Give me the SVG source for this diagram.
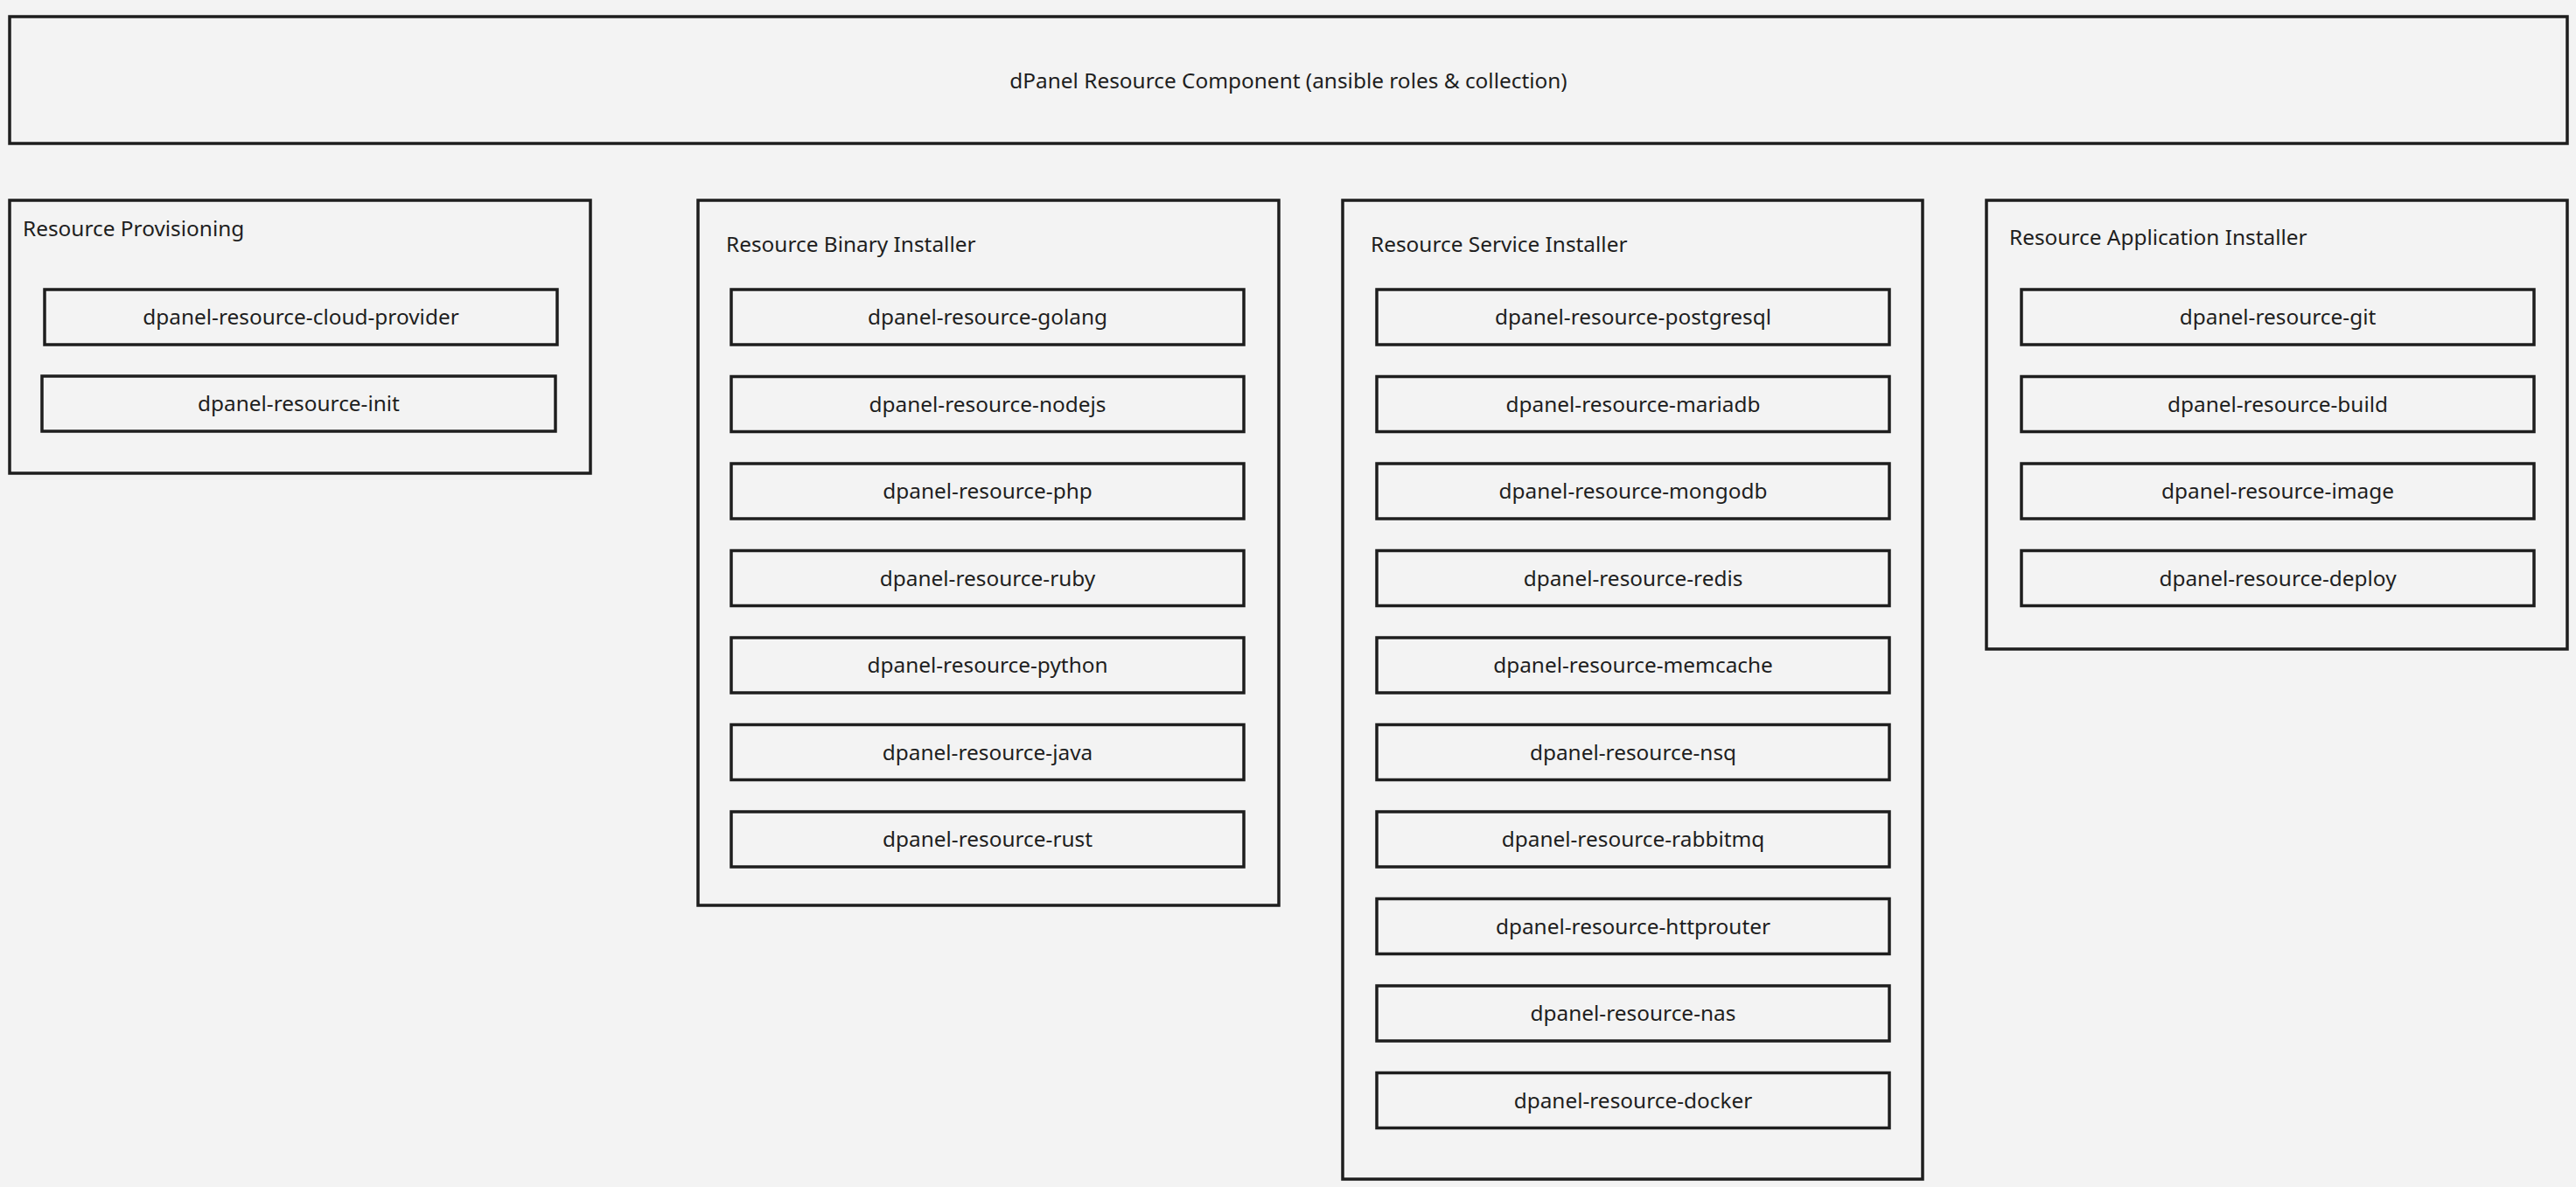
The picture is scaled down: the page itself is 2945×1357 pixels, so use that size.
<svg xmlns="http://www.w3.org/2000/svg" width="2945" height="1357" viewBox="0 0 2945 1357">
<style>
  .bg { fill: #f3f3f3; }
  .box { fill: #f3f3f3; stroke: #1e1e1e; stroke-width: 3.5; }
  .t { font-family: "Noto Sans", "Open Sans", "DejaVu Sans", sans-serif; font-size: 24.4px; fill: #1e1e1e; }
  .c { text-anchor: middle; }
</style>
<rect class="bg" x="0" y="0" width="2945" height="1357"/>

<g id="component">
  <rect class="box" x="11" y="19" width="2924" height="145"/>
  <text class="t c" x="1473" y="101">dPanel Resource Component (ansible roles &amp; collection)</text>
</g>

<g id="provisioning">
  <rect class="box" x="11" y="229" width="664" height="312"/>
  <text class="t" x="26" y="270">Resource Provisioning</text>
  <g id="cloud-provider"><rect class="box" x="51" y="331" width="586" height="63"/><text class="t c" x="344" y="371">dpanel-resource-cloud-provider</text></g>
  <g id="init"><rect class="box" x="48" y="430" width="587" height="63"/><text class="t c" x="341.5" y="470">dpanel-resource-init</text></g>
</g>

<g id="binary-installer">
  <rect class="box" x="798" y="229" width="664" height="806"/>
  <text class="t" x="830" y="288">Resource Binary Installer</text>
  <g id="golang"><rect class="box" x="836" y="331" width="586" height="63"/><text class="t c" x="1129" y="371">dpanel-resource-golang</text></g>
  <g id="nodejs"><rect class="box" x="836" y="430.5" width="586" height="63"/><text class="t c" x="1129" y="470.5">dpanel-resource-nodejs</text></g>
  <g id="php"><rect class="box" x="836" y="530" width="586" height="63"/><text class="t c" x="1129" y="570">dpanel-resource-php</text></g>
  <g id="ruby"><rect class="box" x="836" y="629.5" width="586" height="63"/><text class="t c" x="1129" y="669.5">dpanel-resource-ruby</text></g>
  <g id="python"><rect class="box" x="836" y="729" width="586" height="63"/><text class="t c" x="1129" y="769">dpanel-resource-python</text></g>
  <g id="java"><rect class="box" x="836" y="828.5" width="586" height="63"/><text class="t c" x="1129" y="868.5">dpanel-resource-java</text></g>
  <g id="rust"><rect class="box" x="836" y="928" width="586" height="63"/><text class="t c" x="1129" y="968">dpanel-resource-rust</text></g>
</g>

<g id="service-installer">
  <rect class="box" x="1535" y="229" width="663" height="1119"/>
  <text class="t" x="1567" y="288">Resource Service Installer</text>
  <g id="postgresql"><rect class="box" x="1574" y="331" width="586" height="63"/><text class="t c" x="1867" y="371">dpanel-resource-postgresql</text></g>
  <g id="mariadb"><rect class="box" x="1574" y="430.5" width="586" height="63"/><text class="t c" x="1867" y="470.5">dpanel-resource-mariadb</text></g>
  <g id="mongodb"><rect class="box" x="1574" y="530" width="586" height="63"/><text class="t c" x="1867" y="570">dpanel-resource-mongodb</text></g>
  <g id="redis"><rect class="box" x="1574" y="629.5" width="586" height="63"/><text class="t c" x="1867" y="669.5">dpanel-resource-redis</text></g>
  <g id="memcache"><rect class="box" x="1574" y="729" width="586" height="63"/><text class="t c" x="1867" y="769">dpanel-resource-memcache</text></g>
  <g id="nsq"><rect class="box" x="1574" y="828.5" width="586" height="63"/><text class="t c" x="1867" y="868.5">dpanel-resource-nsq</text></g>
  <g id="rabbitmq"><rect class="box" x="1574" y="928" width="586" height="63"/><text class="t c" x="1867" y="968">dpanel-resource-rabbitmq</text></g>
  <g id="httprouter"><rect class="box" x="1574" y="1027.5" width="586" height="63"/><text class="t c" x="1867" y="1067.5">dpanel-resource-httprouter</text></g>
  <g id="nas"><rect class="box" x="1574" y="1127" width="586" height="63"/><text class="t c" x="1867" y="1167">dpanel-resource-nas</text></g>
  <g id="docker"><rect class="box" x="1574" y="1226.5" width="586" height="63"/><text class="t c" x="1867" y="1266.5">dpanel-resource-docker</text></g>
</g>

<g id="application-installer">
  <rect class="box" x="2271" y="229" width="664" height="513"/>
  <text class="t" x="2297" y="280">Resource Application Installer</text>
  <g id="git"><rect class="box" x="2311" y="331" width="586" height="63"/><text class="t c" x="2604" y="371">dpanel-resource-git</text></g>
  <g id="build"><rect class="box" x="2311" y="430.5" width="586" height="63"/><text class="t c" x="2604" y="470.5">dpanel-resource-build</text></g>
  <g id="image"><rect class="box" x="2311" y="530" width="586" height="63"/><text class="t c" x="2604" y="570">dpanel-resource-image</text></g>
  <g id="deploy"><rect class="box" x="2311" y="629.5" width="586" height="63"/><text class="t c" x="2604" y="669.5">dpanel-resource-deploy</text></g>
</g>

<g id="connectors"></g>
</svg>
